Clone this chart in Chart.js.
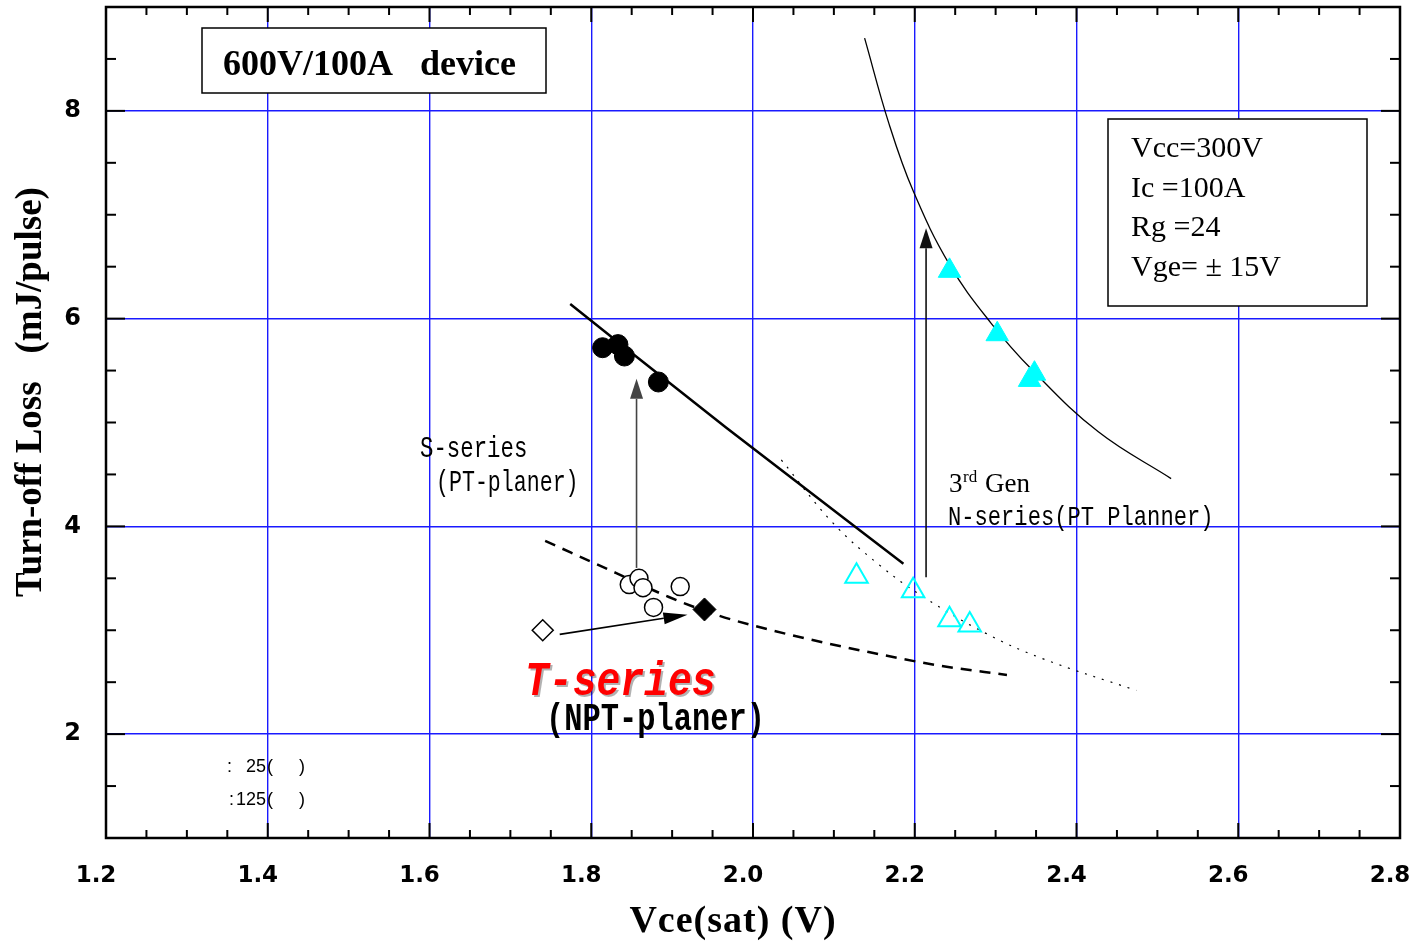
<!DOCTYPE html>
<html><head><meta charset="utf-8">
<script src="https://cdn.jsdelivr.net/npm/chart.js@4.4.1/dist/chart.umd.min.js"></script>
<style>html,body{margin:0;padding:0;background:#fff;overflow:hidden}canvas{display:block}</style>
</head><body>
<canvas id="c" width="1414" height="946"></canvas>
<script>
// ---- axes ----
const X_MIN = 1.2, X_MAX = 2.8, Y_MIN = 1, Y_MAX = 9;
const yTickValues = [2, 4, 6, 8];

// ---- S-series (PT-planer) ----
const sPointsX = [1.814, 1.833, 1.841, 1.883];
const sPointsY = [5.72, 5.75, 5.64, 5.39];
const sFitX = [1.774, 1.967, 2.186];
const sFitY = [6.14, 4.95, 3.64];

// ---- T-series (NPT-planer) ----
const tOpenX = [1.847, 1.859, 1.864, 1.910, 1.877];
const tOpenY = [3.44, 3.50, 3.41, 3.42, 3.22];
const tFilledX = [1.940];
const tFilledY = [3.20];
const tOldX = [1.740];
const tOldY = [3.00];
const tFitX = [1.743, 1.831, 1.896, 1.958, 2.044, 2.143, 2.230, 2.314];
const tFitY = [3.86, 3.55, 3.32, 3.14, 2.96, 2.79, 2.66, 2.57];

// ---- 3rd Gen N-series (PT Planner) ----
const nOpenX = [2.128, 2.198, 2.243, 2.268];
const nOpenY = [3.52, 3.38, 3.10, 3.05];
const nFilledX = [2.243, 2.302, 2.342, 2.348];
const nFilledY = [6.46, 5.85, 5.41, 5.47];
const nFitHotX = [2.138, 2.168, 2.198, 2.243, 2.294, 2.346, 2.427, 2.517];
const nFitHotY = [8.70, 7.88, 7.23, 6.52, 5.96, 5.50, 4.91, 4.46];
const nFitColdX = [2.035, 2.098, 2.156, 2.211, 2.288, 2.357, 2.474];
const nFitColdY = [4.64, 4.04, 3.63, 3.32, 2.97, 2.73, 2.42];

// ---- arrows (data coords) ----
const arrowFrom = [[1.856, 3.60], [2.214, 3.51], [1.761, 2.96]];
const arrowTo   = [[1.856, 5.42], [2.214, 6.87], [1.919, 3.15]];

const zip = (xs, ys) => xs.map((x, i) => ({x, y: ys[i]}));

function txt(ctx, s, x, y, font, color, sx, align) {
  ctx.save();
  ctx.font = font; ctx.fillStyle = color || '#000';
  ctx.textBaseline = 'alphabetic'; ctx.textAlign = align || 'left';
  ctx.translate(x, y); ctx.scale(sx || 1, 1);
  ctx.fillText(s, 0, 0);
  ctx.restore();
}
function arrow(ctx, x1, y1, x2, y2, color, lw, hl, hw) {
  const a = Math.atan2(y2 - y1, x2 - x1);
  const bx = x2 - hl * Math.cos(a), by = y2 - hl * Math.sin(a);
  ctx.save();
  ctx.strokeStyle = color; ctx.lineWidth = lw;
  ctx.beginPath(); ctx.moveTo(x1, y1); ctx.lineTo(bx, by); ctx.stroke();
  ctx.fillStyle = color; ctx.beginPath(); ctx.moveTo(x2, y2);
  ctx.lineTo(bx + hw / 2 * Math.sin(a), by - hw / 2 * Math.cos(a));
  ctx.lineTo(bx - hw / 2 * Math.sin(a), by + hw / 2 * Math.cos(a));
  ctx.closePath(); ctx.fill();
  ctx.restore();
}

const overlay = {
  id: 'overlay',
  afterDatasetsDraw(chart) {
    const {ctx, chartArea: a, scales: {x, y}} = chart;
    const px = v => x.getPixelForValue(v), py = v => y.getPixelForValue(v);

    // arrows
    const cols = ['#444', '#111', '#000'];
    const hl = [20, 20, 24], hw = [13, 13, 12];
    arrowFrom.forEach((f, i) => {
      const t = arrowTo[i];
      arrow(ctx, px(f[0]), py(f[1]), px(t[0]), py(t[1]), cols[i], 1.6, hl[i], hw[i]);
    });

    // boxes
    ctx.save();
    ctx.fillStyle = '#fff'; ctx.strokeStyle = '#000'; ctx.lineWidth = 1.5;
    ctx.fillRect(202, 28, 344, 65); ctx.strokeRect(202, 28, 344, 65);
    ctx.fillRect(1108, 119, 259, 187); ctx.strokeRect(1108, 119, 259, 187);
    ctx.restore();
    txt(ctx, '600V/100A   device', 223, 75, 'bold 36px "Liberation Serif"');
    const leg = ['Vcc=300V', 'Ic =100A', 'Rg =24', 'Vge= \u00b1 15V'];
    leg.forEach((s, i) => txt(ctx, s, 1131, 157 + i * 39.7, '30px "Liberation Serif"'));

    // series labels
    txt(ctx, 'S-series', 420, 457, '30px "Liberation Mono"', '#000', 0.745);
    txt(ctx, '(PT-planer)', 436, 491, '30px "Liberation Mono"', '#000', 0.72);
    txt(ctx, '3', 949, 492, '27px "Liberation Serif"');
    txt(ctx, 'rd', 963, 482, '17px "Liberation Serif"');
    txt(ctx, 'Gen', 985, 492, '27px "Liberation Serif"');
    txt(ctx, 'N-series(PT Planner)', 948, 525, '28px "Liberation Mono"', '#000', 0.79);
    ctx.save();
    ctx.shadowColor = 'rgba(0,0,0,0.3)'; ctx.shadowOffsetX = 2; ctx.shadowOffsetY = 2;
    txt(ctx, 'T-series', 525, 695, 'italic bold 49px "Liberation Mono"', '#ff0000', 0.81);
    ctx.restore();
    txt(ctx, '(NPT-planer)', 546, 730, 'bold 38px "Liberation Mono"', '#000', 0.8);

    // bottom-left notes
    const f18 = '18px "Liberation Sans"';
    txt(ctx, ':', 227, 772, f18); txt(ctx, '25', 266, 772, f18, '#000', 1, 'right');
    txt(ctx, '(', 267, 772, f18); txt(ctx, ')', 299, 772, f18);
    txt(ctx, ':', 229, 805, f18); txt(ctx, '125', 266, 805, f18, '#000', 1, 'right');
    txt(ctx, '(', 267, 805, f18); txt(ctx, ')', 299, 805, f18);

    // axis titles
    ctx.save();
    ctx.font = 'bold 38px "Liberation Serif"'; ctx.fillStyle = '#000';
    ctx.textAlign = 'center'; ctx.textBaseline = 'alphabetic';
    try { ctx.letterSpacing = '1px'; } catch (e) {}
    ctx.fillText('Vce(sat) (V)', 733, 932);
    ctx.restore();
    ctx.save();
    ctx.font = 'bold 37px "Liberation Serif"'; ctx.fillStyle = '#000';
    ctx.textAlign = 'center'; ctx.textBaseline = 'alphabetic';
    ctx.translate(41, 392); ctx.rotate(-Math.PI / 2);
    ctx.fillText('Turn-off Loss   (mJ/pulse)', 0, 0);
    ctx.restore();

    // frame + inward ticks on all sides
    ctx.save();
    ctx.strokeStyle = '#000'; ctx.lineCap = 'butt';
    ctx.lineWidth = 2;
    const line = (x1, y1, x2, y2) => { ctx.beginPath(); ctx.moveTo(x1, y1); ctx.lineTo(x2, y2); ctx.stroke(); };
    for (let i = 0; i <= 32; i++) {
      const v = X_MIN + i * 0.05, p = px(v), L = (i % 4 === 0) ? 15 : 8;
      line(p, a.bottom, p, a.bottom - L); line(p, a.top, p, a.top + L);
    }
    for (let i = 0; i <= 16; i++) {
      const v = Y_MIN + i * 0.5, p = py(v), L = (v % 2 === 0) ? 19 : 10;
      line(a.left, p, a.left + L, p); line(a.right, p, a.right - L, p);
    }
    ctx.lineWidth = 2.5;
    ctx.strokeRect(a.left, a.top, a.right - a.left, a.bottom - a.top);
    ctx.restore();
  }
};

const fitLine = (data, width, dash, mono) => ({
  data, showLine: true, pointRadius: 0, borderColor: '#000', borderWidth: width,
  borderDash: dash, tension: 0.4, cubicInterpolationMode: mono ? 'monotone' : 'default', fill: false
});

new Chart(document.getElementById('c'), {
  type: 'scatter',
  data: {
    datasets: [
      {data: zip(tFilledX, tFilledY), pointStyle: 'rectRot', pointRadius: 11.5, backgroundColor: '#000', borderColor: '#000', borderWidth: 1},
      {data: zip(tOldX, tOldY), pointStyle: 'rectRot', pointRadius: 10.5, backgroundColor: '#fff', borderColor: '#000', borderWidth: 1.5},
      {data: zip(tOpenX, tOpenY), pointStyle: 'circle', pointRadius: 9, backgroundColor: '#fff', borderColor: '#000', borderWidth: 1.5},
      {data: zip(sPointsX, sPointsY), pointStyle: 'circle', pointRadius: 10, backgroundColor: '#000', borderColor: '#000', borderWidth: 1},
      {data: zip(nOpenX, nOpenY), pointStyle: 'triangle', pointRadius: 13, backgroundColor: 'rgba(255,255,255,0)', borderColor: '#00ffff', borderWidth: 2},
      {data: zip(nFilledX, nFilledY), pointStyle: 'triangle', pointRadius: 13, backgroundColor: '#00ffff', borderColor: '#00ffff', borderWidth: 1},
      fitLine(zip(sFitX, sFitY), 2.5, [], true),
      fitLine(zip(tFitX, tFitY), 2.5, [11, 8], true),
      fitLine(zip(nFitHotX, nFitHotY), 1.3, [], false),
      fitLine(zip(nFitColdX, nFitColdY), 1.2, [2, 7], false)
    ]
  },
  options: {
    responsive: false, animation: false, events: [],
    layout: {autoPadding: false, padding: {top: 7, right: 14, left: 0, bottom: 0}},
    plugins: {legend: {display: false}, tooltip: {enabled: false}, title: {display: false}},
    scales: {
      x: {
        type: 'linear', min: X_MIN, max: X_MAX,
        border: {display: false},
        grid: {color: '#1a1aff', lineWidth: 1.4, drawTicks: false},
        ticks: {stepSize: 0.2, padding: 24, labelOffset: -10, color: '#000',
          font: {family: '"DejaVu Sans"', size: 23, weight: 'bold'},
          callback: v => Number(v).toFixed(1)},
        afterFit: s => { s.height = 108; s.paddingLeft = 0; s.paddingRight = 0; }
      },
      y: {
        type: 'linear', min: Y_MIN, max: Y_MAX,
        border: {display: false},
        grid: {color: '#1a1aff', lineWidth: 1.4, drawTicks: false},
        afterBuildTicks: s => { s.ticks = yTickValues.map(v => ({value: v})); },
        ticks: {padding: 25, color: '#000',
          font: {family: '"DejaVu Sans"', size: 24, weight: 'bold', lineHeight: 0.5},
          callback: v => String(v)},
        afterFit: s => { s.width = 106; s.paddingTop = 0; s.paddingBottom = 0; }
      }
    }
  },
  plugins: [overlay]
});
</script>
</body></html>
